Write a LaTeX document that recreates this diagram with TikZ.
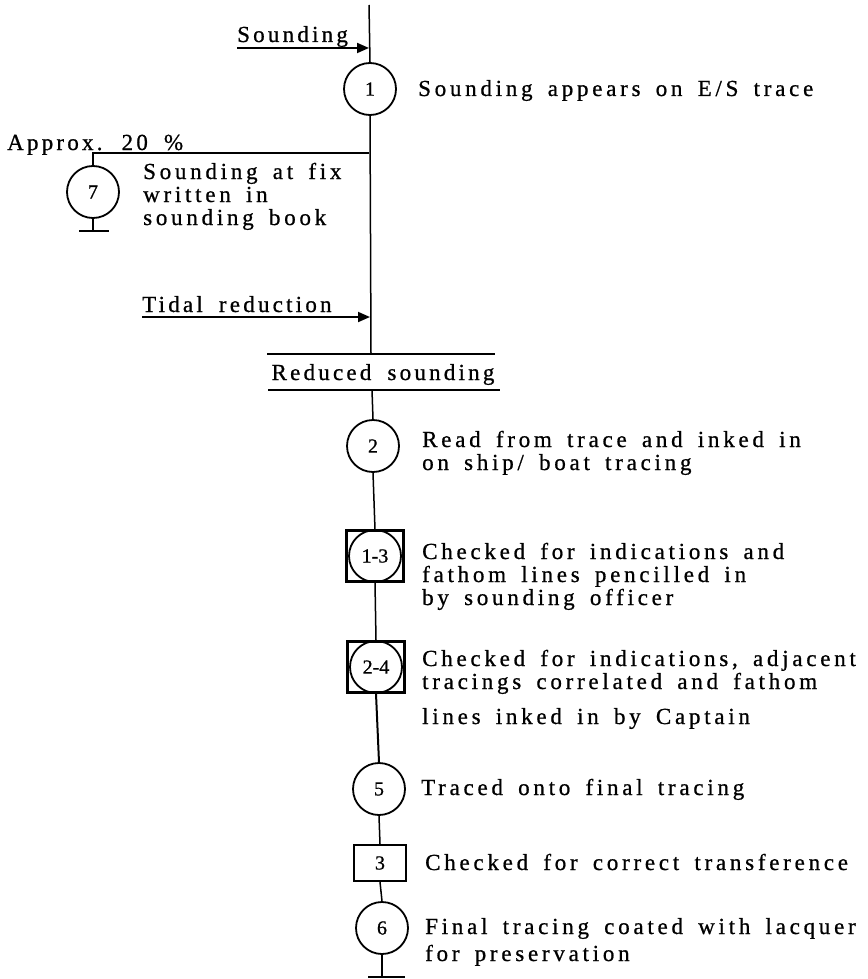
\documentclass[tikz,border=0pt]{standalone}
\usepackage{fontspec}
\setmainfont{Liberation Serif}
\newfontfamily\txtfam[LetterSpace=16.3,WordSpace=1.6,FakeBold=0.8]{Liberation Serif}
\newfontfamily\lblfam[LetterSpace=14,WordSpace=1.8,FakeBold=0.8]{Liberation Serif}
\newfontfamily\numfam[FakeBold=0.8]{Liberation Serif}
\usetikzlibrary{arrows.meta}
\begin{document}
\begin{tikzpicture}[x=1pt,y=-1pt,
  txt/.style={font=\txtfam\fontsize{23}{23}\selectfont, inner sep=0pt, align=left, anchor=base west},
  lbl/.style={font=\lblfam\fontsize{23}{23}\selectfont, inner sep=0pt, anchor=base west},
  proc/.style={circle, draw, line width=1.8pt, minimum size=52pt, inner sep=0pt, font=\numfam\fontsize{20}{20}\selectfont},
  chksq/.style={rectangle, draw, line width=2.4pt, minimum width=57pt, minimum height=51pt, inner sep=0pt},
  chkbox/.style={rectangle, draw, line width=1.9pt, minimum width=52pt, minimum height=36pt, inner sep=0pt, font=\numfam\fontsize{20}{20}\selectfont},
  flow/.style={line width=1.5pt},
  feed/.style={line width=1.9pt, -{Triangle[length=12pt,width=10pt]}},
  endbar/.style={line width=2.2pt}]
\useasboundingbox (0,0) rectangle (867,979);

% coordinates on the flow line
\coordinate (top) at (369,5);
\coordinate (sj) at (369,48);
\coordinate (j1) at (369,153);
\coordinate (b7) at (93,153);
\coordinate (tj) at (370,317);
\coordinate (rsT) at (371,354);
\coordinate (rsB) at (372,390);
\coordinate (sIn) at (237,48);
\coordinate (tIn) at (142,317);
\coordinate (rsTl) at (267,354);
\coordinate (rsTr) at (495,354);
\coordinate (rsBl) at (268,390);
\coordinate (rsBr) at (500,390);
\coordinate (t7) at (93,231);
\coordinate (t7l) at (79,231);
\coordinate (t7r) at (109,231);
\coordinate (t6) at (382,977);
\coordinate (t6l) at (368,977);
\coordinate (t6r) at (405,977);

% operation nodes
\node[proc] (c1) at (370,89) {1};
\node[proc] (c7) at (93,192) {7};
\node[proc] (c2) at (373,446) {2};
\node[chksq] (s13) at (375,556) {};
\node[proc] (c13) at (375,556) {1-3};
\node[chksq] (s24) at (376,667) {};
\node[proc] (c24) at (376,667) {2-4};
\node[proc] (c5) at (379,789) {5};
\node[chkbox] (b3) at (380,863) {3};
\node[proc] (c6) at (382,928) {6};

% texts (base = baseline of the last line)
\node[lbl] (lSnd) at (237,42) {Sounding};
\node[lbl] (lTid) at (142,312) {Tidal reduction};
\node[lbl] (lApp) at (7,150) {Approx. 20 \%};
\node[lbl, anchor=base] (lRed) at (383,380) {Reduced sounding};
\node[txt] (d1) at (418,96) {Sounding appears on E/S trace};
\node[txt] (d7) at (143,225) {Sounding at fix\\written in\\sounding book};
\node[txt] (d2) at (422,470) {Read from trace and inked in\\on ship/ boat tracing};
\node[txt] (d13) at (422,605) {Checked for indications and\\fathom lines pencilled in\\by sounding officer};
\node[txt] (d24) at (422,724) {Checked for indications, adjacent\\tracings correlated and fathom\\[12pt]lines inked in by Captain};
\node[txt] (d5) at (421,795) {Traced onto final tracing};
\node[txt] (d3) at (425,870) {Checked for correct transference};
\node[txt] (d6) at (425,961) {Final tracing coated with lacquer\\[4pt]for preservation};

% flow lines
\draw[flow] (top) -- (c1.north);
\draw[feed] (sIn) -- (sj);
\draw[flow] (c1.south) -- (rsT);
\draw[flow] (j1) -- (b7) -- (c7.north);
\draw[flow] (c7.south) -- (t7);
\draw[endbar] (t7l) -- (t7r);
\draw[feed] (tIn) -- (tj);
\draw[flow] (rsTl) -- (rsTr);
\draw[flow] (rsBl) -- (rsBr);
\draw[flow] (rsB) -- (c2.north);
\draw[flow] (c2.south) -- (s13.north);
\draw[flow] (s13.south) -- (s24.north);
\draw[flow, line width=2pt] (s24.south) -- (c5.north);
\draw[flow] (c5.south) -- (b3.north);
\draw[flow] (b3.south) -- (c6.north);
\draw[flow] (c6.south) -- (t6);
\draw[endbar] (t6l) -- (t6r);
\end{tikzpicture}
\end{document}
